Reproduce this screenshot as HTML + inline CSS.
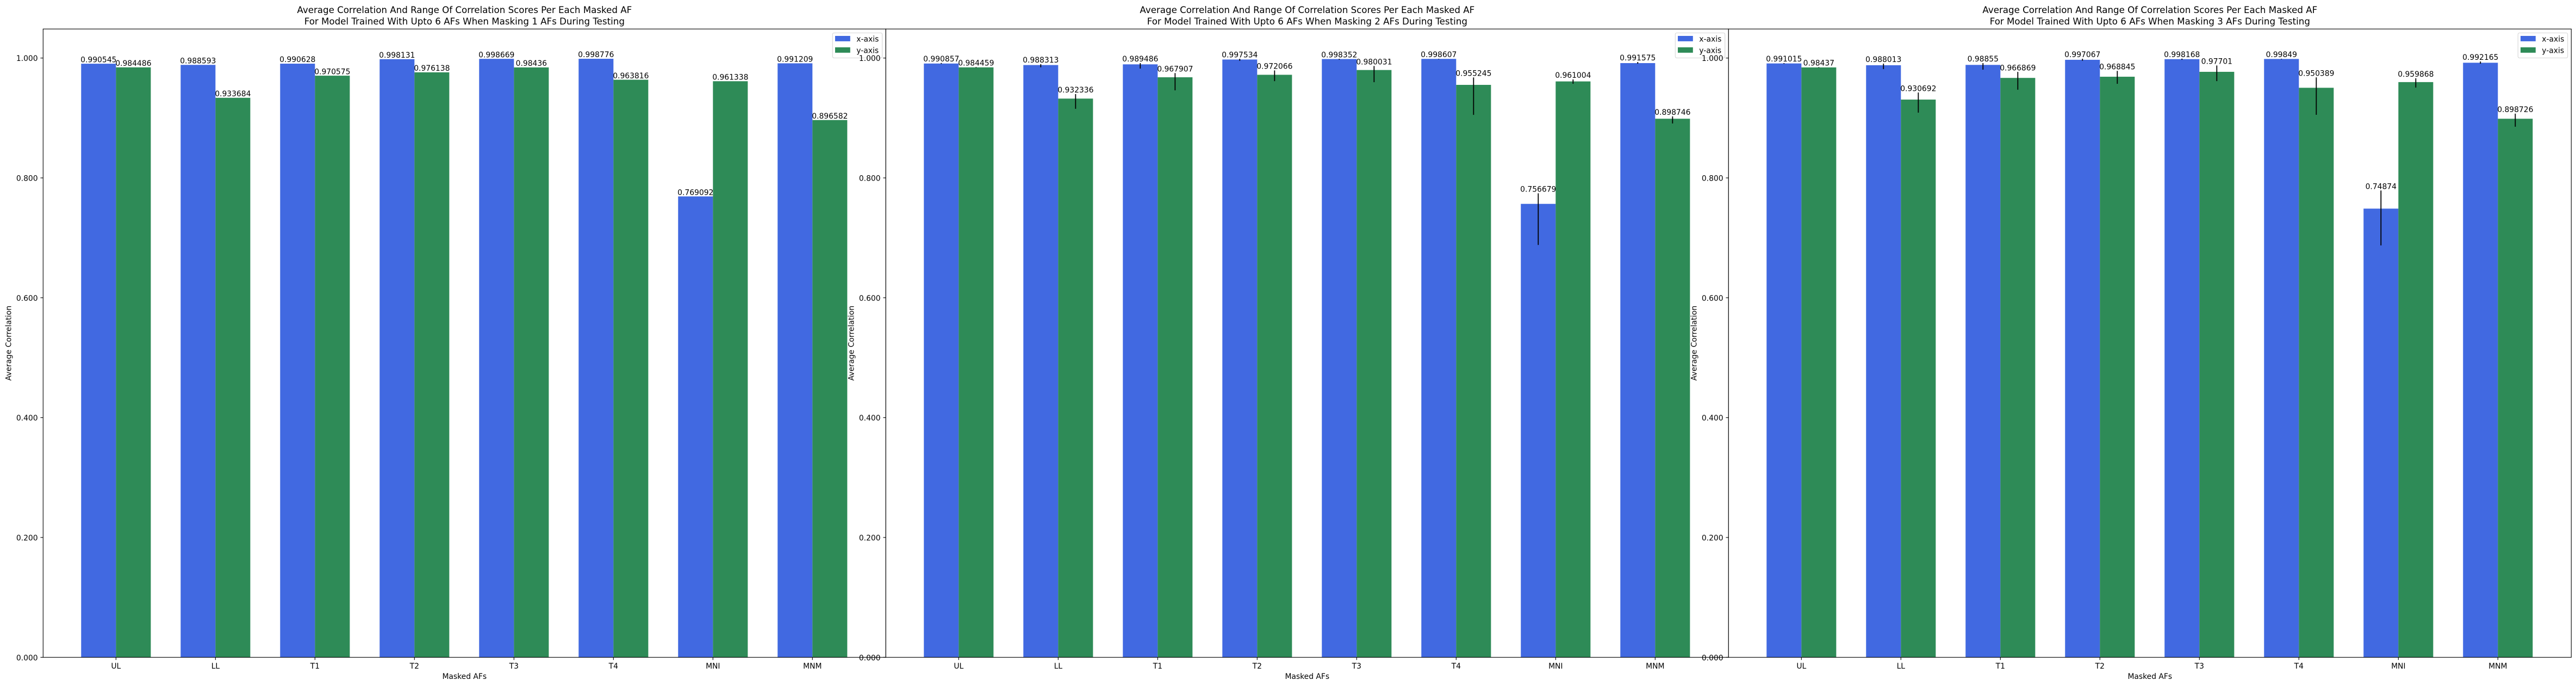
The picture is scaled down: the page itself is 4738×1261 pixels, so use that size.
<!DOCTYPE html>
<html lang="en">
<head>
<meta charset="utf-8">
<title>Average Correlation By Masked AF</title>
<style>
html,body{margin:0;padding:0;background:#fff;width:4738px;height:1261px;overflow:hidden}
svg{display:block}
text{font-family:"DejaVu Sans","Liberation Sans",sans-serif;fill:#000}
</style>
</head>
<body>
<svg id="figure" xmlns="http://www.w3.org/2000/svg" width="4738" height="1261" viewBox="0 0 4738 1261"></svg>
<script>
const categories = ['UL', 'LL', 'T1', 'T2', 'T3', 'T4', 'MNI', 'MNM'];
const yTickValues = [0, 0.2, 0.4, 0.6, 0.8, 1.0];
const seriesNames = ['x-axis', 'y-axis'];
const maskCounts = [1, 2, 3];

const xMeansMask1 = [0.990545, 0.988593, 0.990628, 0.998131, 0.998669, 0.998776, 0.769092, 0.991209];
const yMeansMask1 = [0.984486, 0.933684, 0.970575, 0.976138, 0.98436, 0.963816, 0.961338, 0.896582];
const xErrUpMask1 = [0, 0, 0, 0, 0, 0, 0, 0];
const xErrDownMask1 = [0, 0, 0, 0, 0, 0, 0, 0];
const yErrUpMask1 = [0, 0, 0, 0, 0, 0, 0, 0];
const yErrDownMask1 = [0, 0, 0, 0, 0, 0, 0, 0];

const xMeansMask2 = [0.990857, 0.988313, 0.989486, 0.997534, 0.998352, 0.998607, 0.756679, 0.991575];
const yMeansMask2 = [0.984459, 0.932336, 0.967907, 0.972066, 0.980031, 0.955245, 0.961004, 0.898746];
const xErrUpMask2 = [0.0009, 0.0014, 0.0021, 0.0012, 0.0003, 0.0002, 0.0176, 0.0018];
const xErrDownMask2 = [0.0006, 0.0037, 0.0070, 0.0021, 0.0011, 0.0005, 0.0685, 0.0010];
const yErrUpMask2 = [0.0005, 0.0076, 0.0070, 0.0073, 0.0067, 0.0124, 0.0033, 0.0039];
const yErrDownMask2 = [0.0005, 0.0170, 0.0218, 0.0106, 0.0203, 0.0500, 0.0039, 0.0079];

const xMeansMask3 = [0.991015, 0.988013, 0.98855, 0.997067, 0.998168, 0.99849, 0.74874, 0.992165];
const yMeansMask3 = [0.98437, 0.930692, 0.966869, 0.968845, 0.97701, 0.950389, 0.959868, 0.898726];
const xErrUpMask3 = [0.0006, 0.0027, 0.0030, 0.0018, 0.0009, 0.0003, 0.0303, 0.0021];
const xErrDownMask3 = [0.0006, 0.0064, 0.0079, 0.0015, 0.0012, 0.0006, 0.0614, 0.0015];
const yErrUpMask3 = [0.0005, 0.0118, 0.0100, 0.0097, 0.0106, 0.0173, 0.0064, 0.0085];
const yErrDownMask3 = [0.0004, 0.0218, 0.0197, 0.0118, 0.0155, 0.0451, 0.0091, 0.0133];

const xMeansByPanel = [xMeansMask1, xMeansMask2, xMeansMask3];
const yMeansByPanel = [yMeansMask1, yMeansMask2, yMeansMask3];
const xErrUpByPanel = [xErrUpMask1, xErrUpMask2, xErrUpMask3];
const xErrDownByPanel = [xErrDownMask1, xErrDownMask2, xErrDownMask3];
const yErrUpByPanel = [yErrUpMask1, yErrUpMask2, yErrUpMask3];
const yErrDownByPanel = [yErrDownMask1, yErrDownMask2, yErrDownMask3];

const NS = 'http://www.w3.org/2000/svg';
const svg = document.getElementById('figure');
const PANEL_LEFT = 79.3, PANEL_STEP = 1550, PANEL_W = 1550;
const AXIS_TOP = 53.3, AXIS_BOTTOM = 1208.3, UNIT_PX = 1101.6;
const X_ORIGIN = 134, CAT_PX = 183, BAR_UNITS = 0.35;
const COLORS = ['#4169E1', '#2E8B57'];
const FS = 13.89, TITLE_FS = 16.67, TICK_LEN = 4.86;

function yScale(v) { return AXIS_BOTTOM - v * UNIT_PX; }
function panelLeft(p) { return PANEL_LEFT + p * PANEL_STEP; }
function xScale(p, c) { return panelLeft(p) + X_ORIGIN + c * CAT_PX; }

function make(parent, tag, attrs, text) {
  const el = document.createElementNS(NS, tag);
  for (const k in attrs) el.setAttribute(k, attrs[k]);
  if (text !== undefined) el.textContent = text;
  parent.appendChild(el);
  return el;
}

maskCounts.forEach(function (mask, p) {
  const left = panelLeft(p);
  const series = [
    { means: xMeansByPanel[p], up: xErrUpByPanel[p], down: xErrDownByPanel[p] },
    { means: yMeansByPanel[p], up: yErrUpByPanel[p], down: yErrDownByPanel[p] }
  ];

  const panel = make(svg, 'g', {});
  
  

  const bg = make(panel, 'rect', { x: left, y: AXIS_TOP, width: PANEL_W, height: AXIS_BOTTOM - AXIS_TOP, fill: '#fff' });
  
  

  series.forEach(function (s, si) {
    s.means.forEach(function (v, c) {
      const w = BAR_UNITS * CAT_PX;
      const bx = xScale(p, c) + (si === 0 ? -w : 0);
      const bar = make(panel, 'rect', { x: bx, y: yScale(v), width: w, height: AXIS_BOTTOM - yScale(v), fill: COLORS[si] });
      
      
    });
  });

  series.forEach(function (s, si) {
    s.means.forEach(function (v, c) {
      const w = BAR_UNITS * CAT_PX;
      const cx = xScale(p, c) + (si === 0 ? -w / 2 : w / 2);
      const hi = v + s.up[c], lo = v - s.down[c];
      if (s.up[c] > 0 || s.down[c] > 0) {
        const err = make(panel, 'line', { x1: cx, x2: cx, y1: yScale(hi), y2: yScale(lo), stroke: '#000', 'stroke-width': 1.8 });
        
        
      }
      const label = make(panel, 'text', { x: cx, y: yScale(hi) - 2.8, 'text-anchor': 'middle', 'font-size': FS }, String(v));
      
      
    });
  });

  const spineBox = make(panel, 'rect', { x: left, y: AXIS_TOP, width: PANEL_W, height: AXIS_BOTTOM - AXIS_TOP, fill: 'none', stroke: '#000', 'stroke-width': 1.11 });
  
  

  yTickValues.forEach(function (t) {
    const ty = yScale(t);
    const tick = make(panel, 'line', { x1: left - TICK_LEN, x2: left, y1: ty, y2: ty, stroke: '#000', 'stroke-width': 1.11 });
    
    
    const lab = make(panel, 'text', { x: left - 9.7, y: ty + 5.5, 'text-anchor': 'end', 'font-size': FS }, t.toFixed(3));
    
    
  });

  categories.forEach(function (cat, c) {
    const tx = xScale(p, c);
    const tick = make(panel, 'line', { x1: tx, x2: tx, y1: AXIS_BOTTOM, y2: AXIS_BOTTOM + TICK_LEN, stroke: '#000', 'stroke-width': 1.11 });
    
    
    const lab = make(panel, 'text', { x: tx, y: 1229.2, 'text-anchor': 'middle', 'font-size': FS }, cat);
    
    
  });

  const center = left + PANEL_W / 2;
  const title1 = make(panel, 'text', { x: center, y: 24, 'text-anchor': 'middle', 'font-size': TITLE_FS }, 'Average Correlation And Range Of Correlation Scores Per Each Masked AF');
  
  
  const title2 = make(panel, 'text', { x: center, y: 45, 'text-anchor': 'middle', 'font-size': TITLE_FS }, 'For Model Trained With Upto 6 AFs When Masking ' + mask + ' AFs During Testing');
  
  

  const xTitle = make(panel, 'text', { x: center, y: 1248, 'text-anchor': 'middle', 'font-size': FS }, 'Masked AFs');
  
  

  const yx = left - 58.9, yy = (AXIS_TOP + AXIS_BOTTOM) / 2;
  const yTitle = make(panel, 'text', { x: yx, y: yy, 'text-anchor': 'middle', 'font-size': FS, transform: 'rotate(-90 ' + yx + ' ' + yy + ')' }, 'Average Correlation');
  
  

  const right = left + PANEL_W;
  const legend = make(panel, 'g', {});
  
  
  const frame = make(legend, 'rect', { x: right - 98, y: 60.5, width: 91.4, height: 46, rx: 2.8, ry: 2.8, fill: '#fff', 'fill-opacity': 0.8, stroke: '#ccc', 'stroke-opacity': 0.8, 'stroke-width': 1.11 });
  
  
  seriesNames.forEach(function (name, i) {
    const sw = make(legend, 'rect', { x: right - 93.3, y: 66 + i * 21, width: 27.8, height: 9.9, fill: COLORS[i] });
    
    
    const lt = make(legend, 'text', { x: right - 54, y: 76.6 + i * 21, 'font-size': FS }, name);
    
    
  });
});
</script>
</body>
</html>
